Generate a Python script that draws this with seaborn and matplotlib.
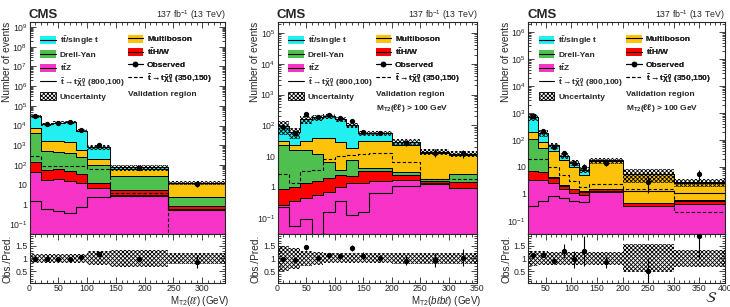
import numpy as np
import pandas as pd
import matplotlib
matplotlib.use("Agg")
import matplotlib.pyplot as plt
import seaborn as sns
from matplotlib.patches import Patch
from matplotlib.lines import Line2D
from matplotlib.ticker import FixedLocator, FuncFormatter, MultipleLocator, NullFormatter

# ---------------- data ----------------
process_names = ["ttbar_single_t", "Multiboson", "Drell-Yan", "ttH/W", "ttZ"]
process_colors = ["#22f0f0", "#fcc30a", "#4fbf4f", "#ff0000", "#f833c8"]

# Panel 1: M_T2(ll)
edges_mt2ll = [0, 20, 40, 60, 80, 100, 140, 240, 340]
ttbar_mt2ll = [22200, 10300, 12400, 13500, 4900, 635, 14, 0.5]
multiboson_mt2ll = [3500, 1180, 1120, 1080, 350, 115, 34, 10]
dy_mt2ll = [4150, 465, 420, 370, 215, 87.5, 22.5, 1.7]
tthw_mt2ll = [108, 37, 41, 34, 23, 5.5, 2.5, 0.22]
ttz_mt2ll = [42, 18, 19, 16, 12, 7, 3, 0.58]
sig800_mt2ll = [1.5, 0.6, 0.47, 0.37, 0.76, 2.4, 2.6, 0.55]
sig350_mt2ll = [280, 87, 87, 87, 87, 65, 3.8, 1e-4]
obs_mt2ll = [29000, 11900, 13600, 14900, 5700, 990, 73, 11.3]
obs_err_mt2ll = [170, 109, 117, 122, 75, 31, 8.5, 3.4]
ratio_mt2ll = [0.97, 0.99, 0.97, 0.99, 1.04, 1.16, 0.96, 0.87]
ratio_err_mt2ll = [0.01, 0.01, 0.01, 0.01, 0.02, 0.04, 0.11, 0.26]
unc_mt2ll = [0.17, 0.17, 0.17, 0.17, 0.17, 0.28, 0.33, 0.23]

# Panel 2: M_T2(blbl)
edges_mt2blbl = [0, 20, 40, 60, 80, 100, 120, 140, 160, 200, 250, 300, 350]
ttbar_mt2blbl = [64, 37, 127, 142, 162, 129, 82, 24, 24, 6, 1.5, 1]
multiboson_mt2blbl = [8, 7, 15, 26, 31.4, 25.5, 10.4, 27, 27, 20, 10.7, 8.3]
dy_mt2blbl = [22.15, 15, 14.7, 10.4, 4.6, 1.1, 5.3, 0.8, 0.8, 0.6, 0.3, 1.3]
tthw_mt2blbl = [0.59, 0.65, 0.85, 1.05, 1.3, 1.4, 1.0, 1.85, 1.7, 0.7, 0.2, 0.45]
ttz_mt2blbl = [0.26, 0.35, 0.45, 0.55, 0.7, 1.0, 1.3, 1.35, 1.5, 1.7, 1.3, 0.95]
sig800_mt2blbl = [0.23, 0.055, 0.09, 1e-4, 0.15, 0.36, 0.125, 0.15, 0.63, 1.1, 1.2, 0.9]
sig350_mt2blbl = [2.6, 1.3, 3.4, 3.6, 7.8, 10, 11, 12, 13, 6.5, 1.8, 1.8]
obs_mt2blbl = [90, 55, 228, 185, 225, 172, 140, 61, 55, 26, 13, 12.4]
obs_err_mt2blbl = [9.5, 7.4, 15, 13.6, 15, 13, 11.8, 7.8, 7.4, 5.1, 3.6, 3.5]
ratio_mt2blbl = [0.96, 0.93, 1.44, 1.03, 1.13, 1.09, 1.40, 1.11, 1.0, 0.91, 0.93, 1.03]
ratio_err_mt2blbl = [0.1, 0.13, 0.1, 0.08, 0.08, 0.08, 0.12, 0.14, 0.13, 0.18, 0.28, 0.33]
unc_mt2blbl = [0.5, 0.4, 0.3, 0.25, 0.2, 0.2, 0.2, 0.2, 0.2, 0.22, 0.22, 0.22]

# Panel 3: S
edges_s = [15, 35, 55, 75, 95, 115, 135, 200, 300, 400]
ttbar_s = [500, 105, 22, 8, 4.2, 2.8, 0.2, 0.2, 0.15]
multiboson_s = [90, 30, 35.9, 15.9, 8.3, 3.75, 15.45, 4.83, 2.03]
dy_s = [103, 43.5, 0.3, 0.1, 0.05, 0.05, 0.05, 0.02, 0.02]
tthw_s = [3.7, 3.2, 1.3, 0.5, 0.35, 0.3, 0.35, 0.1, 0.13]
ttz_s = [3.3, 3.3, 2.5, 1.5, 1.1, 0.9, 1.15, 0.35, 0.42]
sig800_s = [0.34, 0.55, 0.8, 0.7, 0.55, 0.5, 1.3, 1.25, 1.05]
sig350_s = [20, 20, 10, 5, 3, 1.8, 2.4, 1.5, 0.22]
obs_s = [790, 210, 55, 34, 13.6, 10, 14.3, 2.75, 5.3]
obs_err_s = [28, 14.5, 7.4, 5.8, 3.7, 3.2, 3.8, 1.7, 2.3]
ratio_s = [1.13, 1.13, 0.89, 1.29, 0.97, 1.29, 0.84, 0.5, 1.89]
ratio_err_s = [0.05, 0.08, 0.12, 0.28, 0.33, 0.6, 0.22, 0.5, 0.9]
unc_s = [0.3, 0.28, 0.25, 0.25, 0.25, 0.25, 0.25, 0.55, 0.33]

# ---------------- style ----------------
sns.set_theme(style="ticks")
plt.rcParams['font.family'] = ['Liberation Sans', 'DejaVu Sans']
plt.rcParams['mathtext.fontset'] = 'custom'
plt.rcParams['mathtext.rm'] = 'Liberation Sans'
plt.rcParams['mathtext.it'] = 'Liberation Sans:italic'
plt.rcParams['mathtext.bf'] = 'Liberation Sans:bold'
plt.rcParams['hatch.linewidth'] = 0.6
plt.rcParams['axes.linewidth'] = 0.8

W, H = 730, 307
fig = plt.figure(figsize=(W / 100, H / 100), dpi=100)


def P(x, y):
    return x / W, 1 - y / H


MAIN_TOP, MAIN_BOT, RAT_BOT = 22, 234, 283
HATCH = 'xxxxxxxx'

panels = [
    dict(l=29.5, r=225.3, edges=edges_mt2ll,
         comps=[ttbar_mt2ll, multiboson_mt2ll, dy_mt2ll, tthw_mt2ll, ttz_mt2ll],
         s800=sig800_mt2ll, s350=sig350_mt2ll, obs=obs_mt2ll, oerr=obs_err_mt2ll,
         ratio=ratio_mt2ll, rerr=ratio_err_mt2ll, unc=unc_mt2ll,
         ylim=(0.032, 1.79e9), emax=9, xlim=(0, 340), xticks=[0, 50, 100, 150, 200, 250, 300],
         xlabel=r"M$_{\mathrm{T2}}$($\ell\ell$) (GeV)", extra=False),
    dict(l=277.5, r=477.5, edges=edges_mt2blbl,
         comps=[ttbar_mt2blbl, multiboson_mt2blbl, dy_mt2blbl, tthw_mt2blbl, ttz_mt2blbl],
         s800=sig800_mt2blbl, s350=sig350_mt2blbl, obs=obs_mt2blbl, oerr=obs_err_mt2blbl,
         ratio=ratio_mt2blbl, rerr=ratio_err_mt2blbl, unc=unc_mt2blbl,
         ylim=(0.0295, 2.28e5), emax=5, xlim=(0, 350), xticks=[0, 50, 100, 150, 200, 250, 300, 350],
         xlabel=r"M$_{\mathrm{T2}}$($b\ell b\ell$) (GeV)", extra=True),
    dict(l=528, r=725, edges=edges_s,
         comps=[ttbar_s, multiboson_s, dy_s, tthw_s, ttz_s],
         s800=sig800_s, s350=sig350_s, obs=obs_s, oerr=obs_err_s,
         ratio=ratio_s, rerr=ratio_err_s, unc=unc_s,
         ylim=(0.0323, 2.35e6), emax=6, xlim=(15, 400), xticks=[50, 100, 150, 200, 250, 300, 350, 400],
         xlabel=r"$\mathcal{S}$", extra=True),
]


def logfmt(v, pos):
    e = int(round(np.log10(v)))
    if e == 0:
        return "1"
    if e == 1:
        return "10"
    return r"$10^{%d}$" % e


def style_axis(ax):
    ax.tick_params(which='both', direction='in', top=True, right=True,
                   labelsize=6.3, width=0.6, pad=1.5)
    ax.tick_params(which='major', length=4)
    ax.tick_params(which='minor', length=2)


legend_font = dict(weight='bold', size=6)

for p in panels:
    l, r = p['l'], p['r']
    x0, y0 = P(l, MAIN_BOT)
    x1, y1 = P(r, MAIN_TOP)
    ax = fig.add_axes([x0, y0, x1 - x0, y1 - y0])
    rx0, ry0 = P(l, RAT_BOT)
    axr = fig.add_axes([rx0, ry0, x1 - x0, y0 - ry0])

    bin_list = [float(e) for e in p['edges']]
    edges = np.array(bin_list)
    centers = 0.5 * (edges[:-1] + edges[1:])
    rows = []
    for name, vals in zip(process_names, p['comps']):
        for c, v in zip(centers, vals):
            rows.append({'x': float(c), 'w': float(v), 'proc': name})
    df = pd.DataFrame(rows)
    sns.histplot(data=df, x='x', weights='w', hue='proc', hue_order=process_names,
                 palette=process_colors, bins=bin_list, multiple='stack', element='step',
                 fill=True, alpha=1, edgecolor='black', linewidth=0.7, legend=False, ax=ax)

    tot = np.sum(np.array(p['comps'], dtype=float), axis=0)
    unc = np.array(p['unc'])
    lo, hi = tot * (1 - unc), tot * (1 + unc)
    ax.fill_between(edges, np.append(lo, lo[-1]), np.append(hi, hi[-1]), step='post',
                    facecolor='none', edgecolor='black', hatch=HATCH, linewidth=0, zorder=3)

    sig_df = pd.DataFrame({'x': centers, 'w800': p['s800'], 'w350': p['s350']})
    sns.histplot(data=sig_df, x='x', weights='w800', bins=bin_list, element='step', fill=False,
                 color='black', linewidth=0.8, ax=ax, zorder=4)
    sns.histplot(data=sig_df, x='x', weights='w350', bins=bin_list, element='step', fill=False,
                 color='black', linewidth=0.8, linestyle=(0, (3, 2)), ax=ax, zorder=4)

    ax.errorbar(centers, p['obs'], yerr=p['oerr'], fmt='o', color='black', ms=2.8,
                elinewidth=0.8, capsize=0, zorder=5)

    ax.set_yscale('log')
    ax.set_ylim(*p['ylim'])
    ax.set_xlim(*p['xlim'])
    ax.set_xlabel('')
    ax.set_ylabel('')
    ax.yaxis.set_major_locator(FixedLocator([10.0 ** k for k in range(-1, p['emax'] + 1)]))
    ax.yaxis.set_major_formatter(FuncFormatter(logfmt))
    ax.yaxis.set_minor_locator(FixedLocator([m * 10.0 ** k for k in range(-2, p['emax'] + 1)
                                             for m in range(2, 10)]))
    ax.yaxis.set_minor_formatter(NullFormatter())
    ax.xaxis.set_major_locator(FixedLocator(p['xticks']))
    ax.xaxis.set_minor_locator(MultipleLocator(10))
    ax.tick_params(axis='x', labelbottom=False)
    style_axis(ax)

    # ratio panel
    runc = np.array(p['unc'])
    axr.fill_between(edges, np.append(1 - runc, 1 - runc[-1]), np.append(1 + runc, 1 + runc[-1]),
                     step='post', facecolor='none', edgecolor='black', hatch=HATCH,
                     linewidth=0, zorder=2)
    axr.errorbar(centers, p['ratio'], yerr=p['rerr'], fmt='o', color='black', ms=2.8,
                 elinewidth=0.8, capsize=0, zorder=5)
    axr.set_xlim(*p['xlim'])
    axr.set_ylim(0.03, 1.96)
    axr.yaxis.set_major_locator(FixedLocator([0.5, 1, 1.5]))
    axr.yaxis.set_major_formatter(FuncFormatter(lambda v, pos: "1" if v == 1 else ("%g" % v)))
    axr.yaxis.set_minor_locator(MultipleLocator(0.1))
    axr.xaxis.set_major_locator(FixedLocator(p['xticks']))
    axr.xaxis.set_minor_locator(MultipleLocator(10))
    style_axis(axr)
    axr.tick_params(axis='x', pad=0.8)

    # legends
    wpx = r - l
    hpx = MAIN_BOT - MAIN_TOP

    def fx(x):
        return (x - l) / wpx

    def fy(y):
        return 1 - (y - MAIN_TOP) / hpx

    def fill_handle(c):
        return (Patch(facecolor=c, edgecolor='none'), Line2D([0], [0], color='black', lw=0.8))

    h1 = [fill_handle(process_colors[0]), fill_handle(process_colors[2]),
          fill_handle(process_colors[4]), Line2D([0], [0], color='black', lw=0.8),
          Patch(facecolor='white', edgecolor='black', hatch=HATCH, linewidth=0.6)]
    l1 = [r"t$\mathbf{\bar{t}}$/single t", "Drell-Yan", r"t$\mathbf{\bar{t}}$Z",
          r"$\mathbf{\tilde{t}\rightarrow t\tilde{\chi}^{0}_{1}}$ (800,100)", "Uncertainty"]
    h2 = [fill_handle(process_colors[1]), fill_handle(process_colors[3]),
          Line2D([0], [0], color='black', lw=0.8, marker='o', ms=3),
          Line2D([0], [0], color='black', lw=0.8, linestyle=(0, (3, 2)))]
    l2 = ["Multiboson", r"t$\mathbf{\bar{t}}$H/W", "Observed",
          r"$\mathbf{\tilde{t}\rightarrow t\tilde{\chi}^{0}_{1}}$ (350,150)"]
    col1_x = l + 10.5
    col2_x = l + 98
    common = dict(loc='upper left', frameon=False, prop=legend_font, handlelength=1.9,
                  handleheight=1.1, handletextpad=0.45, labelspacing=0.36, borderpad=0,
                  borderaxespad=0)
    leg1 = ax.legend(h1, l1, bbox_to_anchor=(fx(col1_x), fy(34.5)), **common)
    ax.add_artist(leg1)
    leg2 = ax.legend(h2, l2, bbox_to_anchor=(fx(col2_x), fy(34.5)), **common)
    ax.add_artist(leg2)
    ax.text(fx(col2_x), fy(95), "Validation region", transform=ax.transAxes,
            fontsize=6, fontweight='bold', va='center', ha='left')
    if p['extra']:
        ax.text(fx(col2_x), fy(108), r"M$_{\mathbf{T2}}$($\mathbf{\ell\ell}$) > 100 GeV",
                transform=ax.transAxes, fontsize=6, fontweight='bold', va='center', ha='left')

    # headers
    fig.text(*P(l - 1, 18.5), "CMS", fontsize=9.5, fontweight='bold', ha='left', va='baseline')
    fig.text(*P(r, 17.5), r"137 fb$^{-1}$ (13 TeV)", fontsize=6.3, ha='right', va='baseline')

    # axis labels
    fig.text(*P(l - 22, MAIN_TOP), "Number of events", rotation=90, fontsize=7.3,
             ha='center', va='top')
    fig.text(*P(l - 22, MAIN_BOT + 1), "Obs./Pred.", rotation=90, fontsize=7.3,
             ha='center', va='top')
    if p['xlabel'].startswith(r"$\mathcal"):
        fig.text(*P(r - 8, 298.5), p['xlabel'], fontsize=11, ha='right', va='center',
                 math_fontfamily='stix')
    else:
        fig.text(*P(r + 4, 294), p['xlabel'], fontsize=7, ha='right', va='top')

fig.savefig("out.png", dpi=100)
